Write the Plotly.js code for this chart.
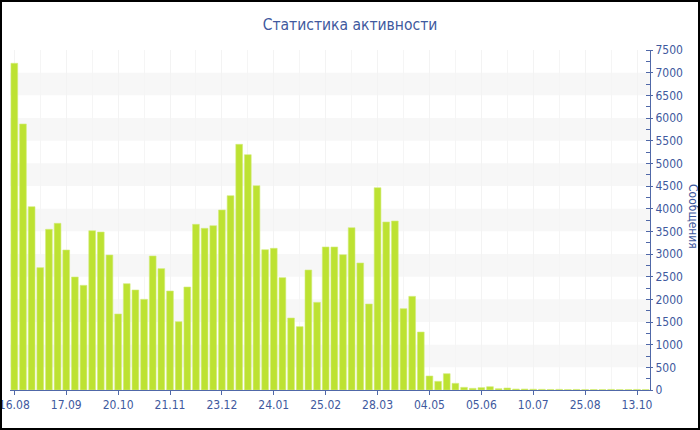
<!DOCTYPE html>
<html>
<head>
<meta charset="utf-8">
<script src="https://cdn.plot.ly/plotly-3.0.1.min.js"></script>
<style>
  html, body { margin: 0; padding: 0; background: #fff; }
  #wrap { position: relative; width: 700px; height: 430px; }
  #chart { width: 700px; height: 430px; }
  #frame { position: absolute; left: 0; top: 0; width: 700px; height: 430px; box-sizing: border-box; border: 2px solid #000; pointer-events: none; }
</style>
</head>
<body>
<div id="wrap"><div id="chart"></div><div id="frame"></div></div>
<script>
// Messages per period
const messages = [
  7207, 5868, 4044, 2699, 3544, 3677, 3088, 2493, 2309, 3515, 3485, 2978,
  1677, 2345, 2206, 2000, 2956, 2677, 2184, 1507, 2272, 3655, 3566, 3625,
  3971, 4287, 5419, 5191, 4507, 3096, 3125, 2478, 1588, 1397, 2647, 1934,
  3155, 3155, 2985, 3581, 2802, 1897, 4463, 3706, 3728, 1794, 2066, 1279,
  309, 191, 360, 147, 59, 37, 52, 73, 29, 44, 22, 22,
  18, 15, 12, 14, 10, 12, 9, 11, 10, 13, 8, 10, 12, 9
];
// Tick labels (one every 6 periods)
const tickLabels = ['16.08','17.09','20.10','21.11','23.12','24.01','25.02','28.03','04.05','05.06','10.07','25.08','13.10'];
const tickPositions = [0, 6, 12, 18, 24, 30, 36, 42, 48, 54, 60, 66, 72];
const periods = messages.map((_, i) => i);

const textColor = '#40599e';
const axisColor = '#5068a8';
const fontFamily = '"DejaVu Sans Condensed", "DejaVu Sans", "Liberation Sans", sans-serif';

const bands = [];
for (let v = 500; v < 7500; v += 1000) {
  bands.push({type: 'rect', xref: 'paper', x0: 0, x1: 1, yref: 'y', y0: v, y1: v + 500,
    fillcolor: '#f7f7f7', line: {width: 0}, layer: 'below'});
}

const trace = {
  type: 'bar',
  x: periods,
  y: messages,
  marker: {color: '#bde232', line: {color: '#d3ec7c', width: 0.6}},
  hoverinfo: 'y'
};

const layout = {
  width: 700, height: 430,
  margin: {l: 10, r: 50, t: 50, b: 40, pad: 0},
  paper_bgcolor: '#fff', plot_bgcolor: '#fff',
  font: {family: fontFamily, color: textColor, size: 12},
  title: {text: 'Статистика активности', x: 0.5, xref: 'container', y: 0.942, yanchor: 'middle', xanchor: 'center',
    font: {family: fontFamily, size: 15.5, color: textColor}},
  bargap: 0.22,
  showlegend: false,
  shapes: bands,
  xaxis: {
    range: [-0.5, 73.5],
    tickmode: 'array', tickvals: tickPositions, ticktext: tickLabels,
    ticks: 'outside', ticklen: 4, tickcolor: axisColor, tickwidth: 1,
    showline: true, linecolor: axisColor, linewidth: 1,
    showgrid: true, gridcolor: '#f3f3f3', gridwidth: 1,
    zeroline: false,
    ticklabeloverflow: 'allow',
    tickfont: {family: fontFamily, size: 12, color: textColor},
    minor: {tickmode: 'linear', tick0: 0, dtick: 3, showgrid: true, gridcolor: '#f5f5f5', ticks: ''}
  },
  yaxis: {
    side: 'right',
    range: [0, 7500],
    tickmode: 'linear', tick0: 0, dtick: 500,
    ticks: 'outside', ticklen: 2, tickcolor: axisColor, tickwidth: 1,
    showline: true, linecolor: axisColor, linewidth: 1,
    showgrid: false, zeroline: false,
    ticklabeloverflow: 'allow',
    tickfont: {family: fontFamily, size: 12, color: textColor},
    minor: {tickmode: 'linear', tick0: 0, dtick: 250, ticks: 'inside', ticklen: 4, tickcolor: axisColor, showgrid: false}
  },
  annotations: [{
    text: 'Сообщения', textangle: 90, showarrow: false,
    xref: 'paper', yref: 'paper', x: 1.068, y: 0.51, xanchor: 'center', yanchor: 'middle',
    font: {family: fontFamily, size: 12, color: textColor}
  }]
};

Plotly.newPlot('chart', [trace], layout, {displayModeBar: false, staticPlot: true});
</script>
</body>
</html>
